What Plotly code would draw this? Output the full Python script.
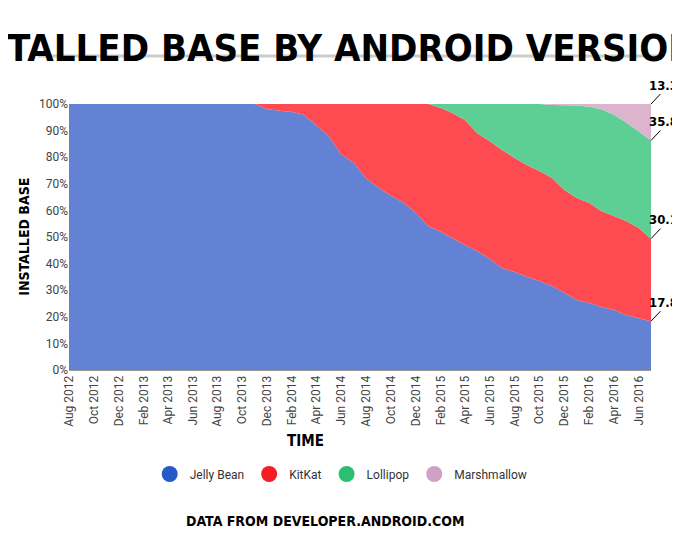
import plotly.graph_objects as go
import pandas as pd

months = pd.date_range("2012-08-01", "2016-07-01", freq="MS")

jelly_bean = [100]*16 + [98, 97.5, 97, 96, 92, 88, 81, 78, 72, 68.5, 65.5, 63, 59,
                         54, 52, 49.5, 47, 44.7, 41.7, 38.3, 36.8, 35, 33.5, 31.6, 29,
                         26.3, 25.2, 23.7, 22.6, 20.7, 19.5, 17.8]
kitkat = [0]*16 + [2, 2.5, 3, 4, 8, 12, 19, 22, 28, 31.5, 34.5, 37, 41,
                   46, 46.5, 47.1, 47, 44.3, 44.3, 44.4, 42.9, 42, 41.3, 40.6, 38.7,
                   38.4, 37.6, 36.1, 35.3, 35.3, 33.9, 30.1]
lollipop = [0]*30 + [1.5, 3.4, 6, 11, 14, 17.3, 20.3, 23, 25.2, 27.4, 31.8,
                     34.7, 36.2, 38.2, 38.1, 37, 36.3, 35.8]
marshmallow = [0]*39 + [0.4, 0.5, 0.6, 1, 2, 4, 7, 10.3, 13.3]

names = ["Jelly Bean", "KitKat", "Lollipop", "Marshmallow"]
series = [jelly_bean, kitkat, lollipop, marshmallow]
fills = ["#6482d4", "#fe4b51", "#5dcf95", "#dcb4ce"]
dots = ["#2459c9", "#f41d24", "#2cbf72", "#d0a0c6"]
end_labels = ["17.8%", "30.1%", "35.8%", "13.3%"]

cond = "Liberation Sans Narrow, DejaVu Sans Condensed"

fig = go.Figure()
for name, vals, c in zip(names, series, fills):
    fig.add_trace(go.Scatter(x=months, y=vals, stackgroup="a", groupnorm="percent",
                             mode="none", fillcolor=c, showlegend=False, name=name))
for name, c in zip(names, dots):
    fig.add_trace(go.Scatter(x=[None], y=[None], mode="markers", name=name,
                             marker=dict(color=c, size=16)))

# right-hand labels with leader lines
total = sum(s[-1] for s in series)
cum = 0
for vals, lab in zip(series, end_labels):
    cum += vals[-1]
    fig.add_annotation(x=months[-1], y=cum / total * 100, text="<b>" + lab + "</b>",
                       showarrow=True, arrowhead=0, arrowwidth=1, arrowcolor="black",
                       ax=18, ay=-19, font=dict(family=cond, size=13, color="black"))

fig.add_annotation(xref="paper", yref="paper", x=-0.095, y=0.5, text="<b>INSTALLED BASE</b>",
                   textangle=-90, showarrow=False, font=dict(family=cond, size=14, color="black"))
fig.add_annotation(xref="paper", yref="paper", x=0.407, y=-0.31, text="<b>TIME</b>",
                   showarrow=False, font=dict(family=cond, size=15, color="black"))
fig.add_annotation(xref="paper", yref="paper", x=0.43, xanchor="center", y=1.3,
                   text="<b>INSTALLED BASE BY ANDROID VERSION</b>", showarrow=False,
                   font=dict(family=cond, size=38, color="black"))
fig.add_annotation(xref="paper", yref="paper", x=0.44, y=-0.605,
                   text="<b>DATA FROM DEVELOPER.ANDROID.COM</b>", showarrow=False,
                   font=dict(family=cond, size=14, color="black"))
fig.add_shape(type="line", xref="paper", yref="paper", x0=-0.054, x1=1.01, y0=1.18, y1=1.18,
              line=dict(color="#cccccc", width=3))
fig.add_shape(type="line", xref="paper", yref="paper", x0=-0.054, x1=1.01, y0=-0.65, y1=-0.65,
              line=dict(color="#dddddd", width=1))

fig.update_layout(
    width=680, height=540, paper_bgcolor="white", plot_bgcolor="white",
    margin=dict(l=61, r=37, t=96, b=178),
    font=dict(family="Roboto", size=12, color="#444"),
    legend=dict(orientation="h", xref="container", yref="container", x=0.49, y=0.137,
                xanchor="center", yanchor="middle", traceorder="normal",
                font=dict(size=12, color="#333")),
    xaxis=dict(range=[months[0], months[-1]], tick0="2012-08-01", dtick="M2", tickformat="%b %Y",
               tickangle=-90, showgrid=False, showline=True, linecolor="#999",
               ticks="", fixedrange=True, automargin=False),
    yaxis=dict(range=[0, 100], dtick=10, ticksuffix="%", showgrid=False, zeroline=False,
               ticks="", fixedrange=True, automargin=False),
)

fig.write_html("out.html")
